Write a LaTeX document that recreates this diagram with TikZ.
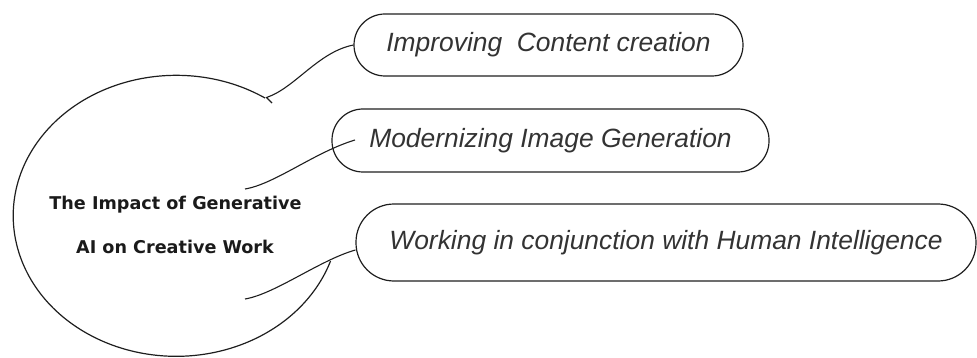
\documentclass[tikz,border=0pt]{standalone}
\usepackage{fontspec}
\newfontfamily\boxfont{Liberation Sans}
\newfontfamily\ctfont{DejaVu Sans}
\definecolor{linec}{HTML}{1E1E1E}
\definecolor{boxtext}{HTML}{333333}
\definecolor{ctext}{HTML}{1A1A1A}
\tikzset{
  pill/.style={draw=linec, line width=1.2pt, rounded corners=#1, inner sep=0pt},
  boxlabel/.style={font=\boxfont\itshape\fontsize{26.4}{30}\selectfont, text=boxtext},
  ctlabel/.style={font=\ctfont\bfseries\fontsize{17.6}{20}\selectfont, text=ctext, anchor=base, inner sep=0pt},
  conn/.style={draw=linec, line width=1.1pt},
  blob/.style={draw=linec, line width=1.2pt}
}
\begin{document}
\begin{tikzpicture}[x=1pt,y=-1pt]
\useasboundingbox (0,0) rectangle (977,358);
% boxes
\node[pill=31pt, minimum width=389pt, minimum height=62pt] (b1) at (548.5,45) {};
\node[boxlabel] (l1) at (b1.center) {Improving\ \ Content creation};
\node[pill=31pt, minimum width=437pt, minimum height=63pt] (b2) at (550.5,140.5) {};
\node[boxlabel] (l2) at (b2.center) {Modernizing Image Generation};
\node[pill=38pt, minimum width=620pt, minimum height=77pt] (b3) at (666,242.5) {};
\node[boxlabel] (l3) at (b3.center) {Working in conjunction with Human Intelligence};
% central text
\node[ctlabel] (t1) at (175.5,210) {The Impact of Generative};
\node[ctlabel] (t2) at (175,253) {AI on Creative Work};
% blob outline
\coordinate (bstart) at (265,98);
\coordinate (bend) at (332,263);
\draw[blob] (bstart) arc[start angle=57, end angle=341.2, x radius=163pt, y radius=140.5pt];
% connectors
\coordinate (tick) at (272,103);
\coordinate (c1) at (266.5,97.5);
\coordinate (c2) at (245,189);
\coordinate (c3) at (245,299);
\coordinate (e2) at (355,140);
\draw[conn] (tick) -- (c1) .. controls (295,88) and (318,52) .. (b1.west);
\draw[conn] (c2) .. controls (275,184) and (315,152) .. (e2);
\draw[conn] (c3) .. controls (275,294) and (320,260) .. (b3.west |- 0,250);
\end{tikzpicture}
\end{document}
